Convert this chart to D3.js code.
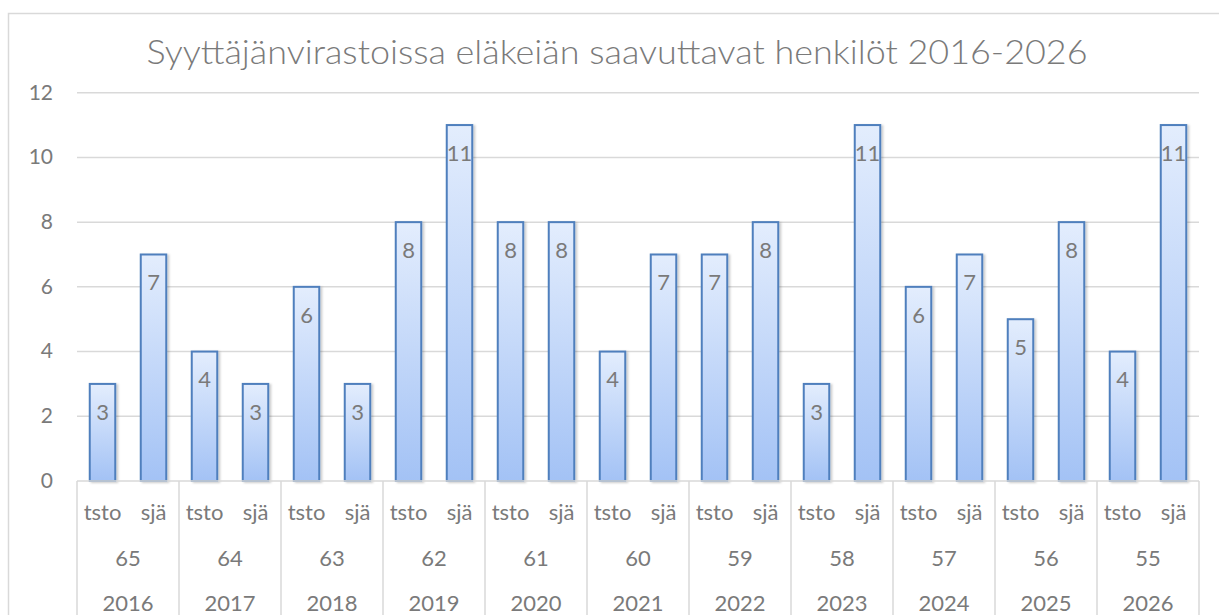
<!DOCTYPE html>
<html><head><meta charset="utf-8">
<script src="https://cdn.jsdelivr.net/npm/d3@7"></script>
<style>
body{margin:0;background:#fff;}
svg{display:block;font-family:Lato,"Open Sans",sans-serif;}
</style></head>
<body><svg id="c" width="1219" height="615"></svg>
<script>
const title = "Syyttäjänvirastoissa eläkeiän saavuttavat henkilöt 2016-2026";
const years = ["2016","2017","2018","2019","2020","2021","2022","2023","2024","2025","2026"];
const ages = ["65","64","63","62","61","60","59","58","57","56","55"];
const subCats = ["tsto","sjä"];
const tsto = [3,4,6,8,8,4,7,3,6,5,4];
const sja = [7,3,3,11,8,7,8,11,7,8,11];
const yTicks = [0,2,4,6,8,10,12];

(function(){
const svg = d3.select("#c");
const W = 1219, H = 615;
const pLeft = 77, pRight = 1199, pTop = 92.7, pBottom = 481;
const gray = "#7a7a7a", grid = "#d9d9d9";

svg.append("rect").attr("x",8.5).attr("y",13.5).attr("width",W+20).attr("height",H+20)
  .attr("fill","#fff").attr("stroke",grid).attr("stroke-width",1.5);

const defs = svg.append("defs");
const grad = defs.append("linearGradient").attr("id","g").attr("x1",0).attr("y1",0).attr("x2",0).attr("y2",1);
grad.append("stop").attr("offset","0%").attr("stop-color","#e3edfd");
grad.append("stop").attr("offset","100%").attr("stop-color","#a3c2f5");
const f = defs.append("filter").attr("id","sh").attr("x","-20%").attr("y","-5%").attr("width","150%").attr("height","115%");
f.append("feDropShadow").attr("dx",2).attr("dy",1).attr("stdDeviation",1.2).attr("flood-color","#000").attr("flood-opacity",0.2);

const y = d3.scaleLinear().domain([0,12]).range([pBottom, pTop]);
const x0 = d3.scaleBand().domain(years).range([pLeft, pRight]).paddingInner(0).paddingOuter(0);
const x1 = d3.scaleBand().domain(subCats).range([0, x0.bandwidth()]);
const barW = 25.5;

svg.append("g").selectAll("line").data(yTicks.filter(d=>d>0)).join("line")
  .attr("x1",pLeft).attr("x2",pRight).attr("y1",d=>y(d)).attr("y2",d=>y(d))
  .attr("stroke",grid).attr("stroke-width",1.5);

const yAxis = d3.axisLeft(y).tickValues(yTicks).tickSize(0).tickPadding(24);
const ga = svg.append("g").attr("transform",`translate(${pLeft},0)`).call(yAxis);
ga.select(".domain").remove();
ga.selectAll("text").attr("fill",gray).attr("font-size",21).attr("font-family","Lato, sans-serif").attr("dy","0.3em");

const rows = [];
years.forEach((yr,i)=>{
  rows.push({yr, cat:"tsto", v:tsto[i]});
  rows.push({yr, cat:"sjä", v:sja[i]});
});
const bars = svg.append("g").selectAll("g").data(rows).join("g")
  .attr("transform",d=>`translate(${x0(d.yr)+x1(d.cat)+x1.bandwidth()/2},0)`);
bars.append("rect").attr("x",-barW/2).attr("y",d=>y(d.v)).attr("width",barW).attr("height",d=>pBottom-y(d.v))
  .attr("fill","url(#g)").attr("stroke","#4f7fbd").attr("stroke-width",2).attr("filter","url(#sh)");
bars.append("text").attr("y",d=>y(d.v)+28).attr("dy","0.35em").attr("text-anchor","middle")
  .attr("fill",gray).attr("font-size",22).text(d=>d.v);

const cat = svg.append("g");
cat.append("line").attr("x1",pLeft).attr("x2",pRight).attr("y1",pBottom).attr("y2",pBottom).attr("stroke",grid).attr("stroke-width",1.5);
cat.selectAll("line.sep").data(d3.range(years.length+1)).join("line").attr("class","sep")
  .attr("x1",i=>i<years.length?x0(years[i]):pRight).attr("x2",i=>i<years.length?x0(years[i]):pRight)
  .attr("y1",pBottom).attr("y2",H+5).attr("stroke",grid).attr("stroke-width",1.5);
years.forEach((yr,i)=>{
  subCats.forEach(c=>{
    cat.append("text").attr("x",x0(yr)+x1(c)+x1.bandwidth()/2).attr("y",512).attr("dy","0.35em")
      .attr("text-anchor","middle").attr("fill",gray).attr("font-size",22).text(c);
  });
  cat.append("text").attr("x",x0(yr)+x0.bandwidth()/2).attr("y",558).attr("dy","0.35em")
    .attr("text-anchor","middle").attr("fill",gray).attr("font-size",22).text(ages[i]);
  cat.append("text").attr("x",x0(yr)+x0.bandwidth()/2).attr("y",603).attr("dy","0.35em")
    .attr("text-anchor","middle").attr("fill",gray).attr("font-size",22).text(yr);
});

svg.append("text").attr("x",617).attr("y",64).attr("text-anchor","middle")
  .attr("fill",gray).attr("font-size",33).attr("font-weight",300)
  .attr("textLength",941).attr("lengthAdjust","spacingAndGlyphs").text(title);
})();
</script></body></html>
